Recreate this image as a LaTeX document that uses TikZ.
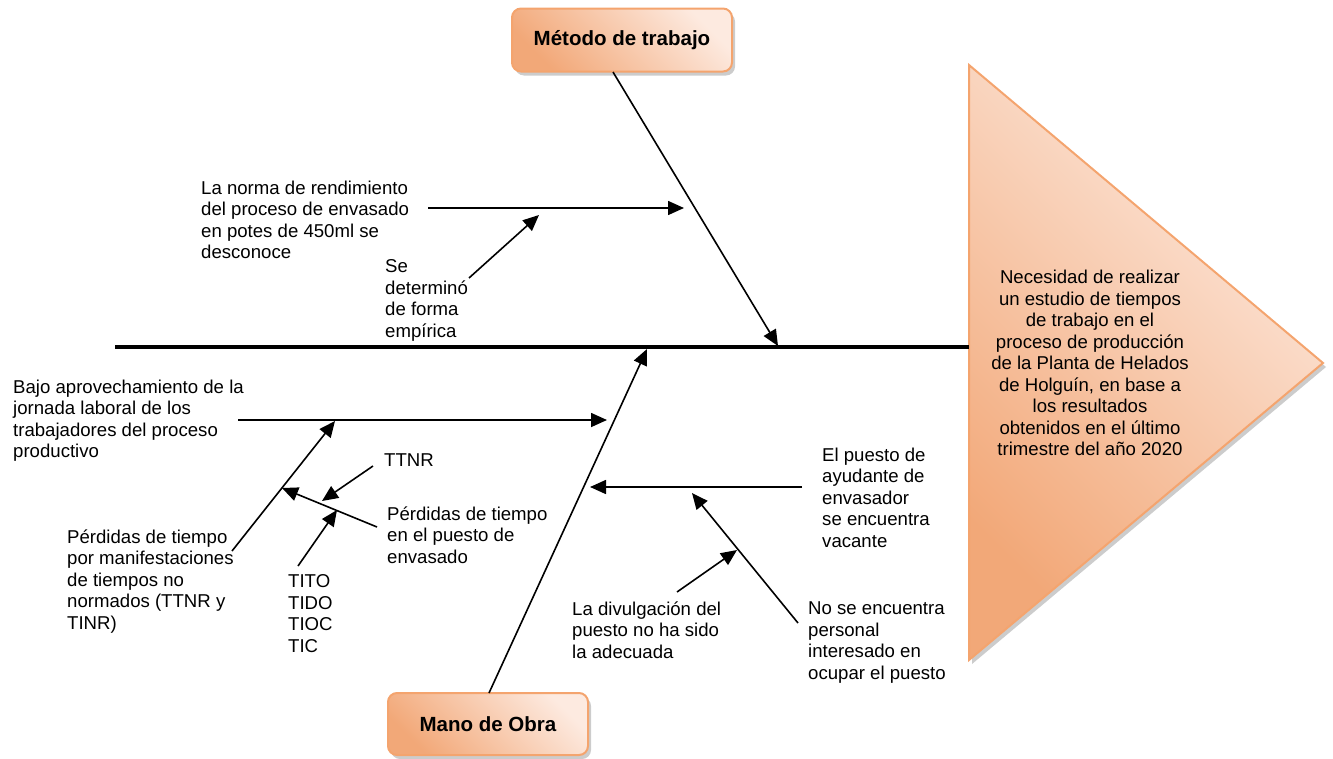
\documentclass[tikz,border=0pt]{standalone}
\usepackage{fontspec}
\setmainfont{Liberation Sans}
\usetikzlibrary{arrows.meta,shadows}
\definecolor{ordk}{HTML}{F2A878}
\definecolor{orlt}{HTML}{FDEAE0}
\definecolor{orln}{HTML}{F4A46E}
\begin{document}
\begin{tikzpicture}[x=1pt,y=-1pt,
  txt/.style={anchor=north west, inner sep=0pt, align=left, font=\fontsize{18.6}{21.5}\selectfont},
  cat/.style={draw=orln, line width=2pt, rounded corners=9pt, left color=ordk, right color=orlt, shading angle=135,
    font=\bfseries\fontsize{20.5}{24}\selectfont,
    drop shadow={shadow xshift=3pt, shadow yshift=-4pt, fill=black!40, opacity=0.5}},
  arr/.style={line width=1.6pt, -{Triangle[length=16pt,width=14pt]}}]
\useasboundingbox (0,0) rectangle (1333,758);

% head triangle
\path[draw=orln, line width=2pt, left color=ordk, right color=orlt, shading angle=135,
  drop shadow={shadow xshift=3pt, shadow yshift=-4pt, fill=black!40, opacity=0.5}]
  (969,65) -- (1323,363) -- (969,660) -- cycle;
\node[inner sep=0pt, align=center, font=\fontsize{18.6}{21.5}\selectfont] (head) at (1090,363)
  {Necesidad de realizar\\un estudio de tiempos\\de trabajo en el\\proceso de producción\\de la Planta de Helados\\de Holguín, en base a\\los resultados\\obtenidos en el último\\trimestre del año 2020};

% category boxes
\node[cat, minimum width=220pt, minimum height=63pt] (metodo) at (622,40) {Método de trabajo};
\node[cat, minimum width=200pt, minimum height=62pt] (mano) at (488,724) {Mano de Obra};

% coordinates
\coordinate (spL) at (115,347);
\coordinate (spR) at (969,347);
\coordinate (mS) at (613,72);  \coordinate (mE) at (778,346);
\coordinate (oS) at (489,693); \coordinate (oE) at (647,349);
\coordinate (nS) at (428,208); \coordinate (nE) at (684,208);
\coordinate (sS) at (469,278); \coordinate (sE) at (539,215);
\coordinate (bS) at (238,420); \coordinate (bE) at (607,420);
\coordinate (pS) at (232,551); \coordinate (pE) at (335,421);
\coordinate (qS) at (377,527); \coordinate (qE) at (282,488);
\coordinate (tS) at (373,466); \coordinate (tE) at (322,501);
\coordinate (iS) at (298,566); \coordinate (iE) at (337,510);
\coordinate (eS) at (802,487); \coordinate (eE) at (590,487);
\coordinate (xS) at (798,623); \coordinate (xE) at (692,493);
\coordinate (dS) at (677,592); \coordinate (dE) at (737,550);

% spine
\draw[line width=3.5pt] (spL) -- (spR);

% bones
\draw[arr] (mS) -- (mE);
\draw[arr] (oS) -- (oE);
\draw[arr] (nS) -- (nE);
\draw[arr] (sS) -- (sE);
\draw[arr] (bS) -- (bE);
\draw[arr] (pS) -- (pE);
\draw[arr] (qS) -- (qE);
\draw[arr] (tS) -- (tE);
\draw[arr] (iS) -- (iE);
\draw[arr] (eS) -- (eE);
\draw[arr] (xS) -- (xE);
\draw[arr] (dS) -- (dE);

% labels
\node[txt] (norma) at (201,180.5) {La norma de rendimiento\\del proceso de envasado\\en potes de 450ml se\\desconoce};
\node[txt] (sedet) at (385,259.5) {Se\\determinó\\de forma\\empírica};
\node[txt] (bajo) at (13,379.5) {Bajo aprovechamiento de la\\jornada laboral de los\\trabajadores del proceso\\productivo};
\node[txt] (perdA) at (67,529.5) {Pérdidas de tiempo\\por manifestaciones\\de tiempos no\\normados (TTNR y\\TINR)};
\node[txt] (tito) at (288,574.5) {TITO\\TIDO\\TIOC\\TIC};
\node[txt] (perdB) at (387,506.5) {Pérdidas de tiempo\\en el puesto de\\envasado};
\node[txt] (ttnr) at (384,453.5) {TTNR};
\node[txt] (puesto) at (822,447.5) {El puesto de\\ayudante de\\envasador\\se encuentra\\vacante};
\node[txt] (divul) at (572,601.5) {La divulgación del\\puesto no ha sido\\la adecuada};
\node[txt] (nose) at (808,601.5) {No se encuentra\\personal\\interesado en\\ocupar el puesto};
\end{tikzpicture}
\end{document}
